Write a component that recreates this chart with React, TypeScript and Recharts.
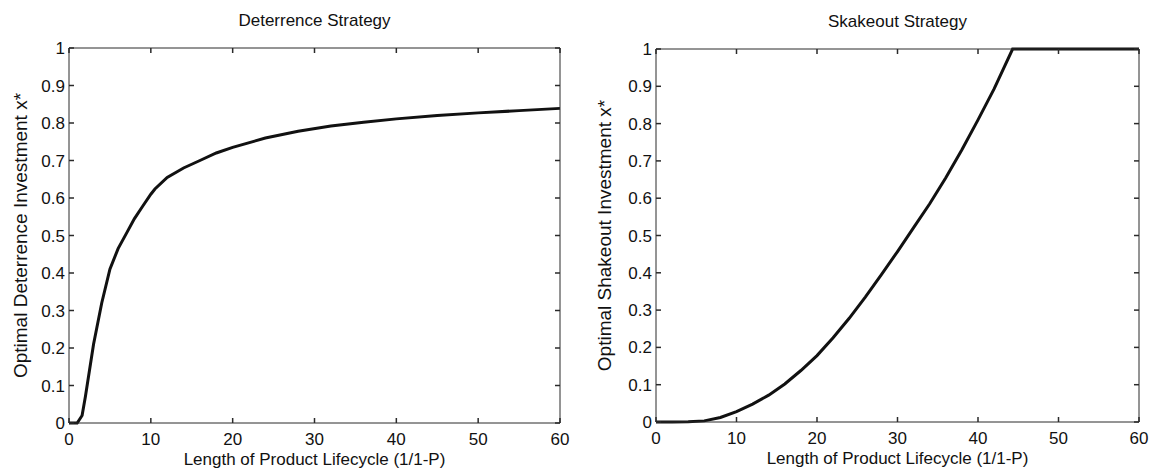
import React from 'react'
import { LineChart, Line, XAxis, YAxis } from 'recharts'

// curve values
const deterrenceX = [0, 1, 1.6, 2, 3, 4, 5, 6, 7, 8, 9, 10, 10.5, 12, 14, 16, 18, 20, 24, 28, 32, 36, 40, 45, 50, 55, 60]
const deterrenceY = [0, 0, 0.02, 0.07, 0.21, 0.32, 0.41, 0.465, 0.505, 0.545, 0.578, 0.61, 0.624, 0.655, 0.68, 0.7, 0.72, 0.735, 0.76, 0.778, 0.792, 0.802, 0.811, 0.82, 0.827, 0.833, 0.839]

const shakeoutX = [0, 2, 4, 6, 8, 10, 12, 14, 16, 18, 20, 22, 24, 26, 28, 30, 32, 34, 36, 38, 40, 42, 44.3, 46, 50, 55, 60]
const shakeoutY = [0, 0, 0.001, 0.003, 0.012, 0.028, 0.048, 0.072, 0.102, 0.138, 0.178, 0.226, 0.278, 0.335, 0.395, 0.457, 0.521, 0.585, 0.655, 0.73, 0.81, 0.893, 1, 1, 1, 1, 1]

const xTicks = [0, 10, 20, 30, 40, 50, 60]
const yTicks = [0, 0.1, 0.2, 0.3, 0.4, 0.5, 0.6, 0.7, 0.8, 0.9, 1]

const FONT = 'Liberation Sans, Arial, sans-serif'
const AXIS = '#2a2a2a'
const labelStyle = { fontSize: 17, fill: '#111', fontFamily: FONT }
const TICK_LEN = 5
const GAP = 10

// matlab style ticks: short marks pointing into the plot, label outside
const makeTick = (side: 'bottom' | 'left' | 'top' | 'right', showLabel: boolean) => (props: any) => {
  const { x, y, payload } = props
  let line = { x1: x, y1: y, x2: x, y2: y }
  if (side === 'bottom') line = { x1: x, y1: y - GAP, x2: x, y2: y - GAP - TICK_LEN }
  if (side === 'top') line = { x1: x, y1: y + GAP, x2: x, y2: y + GAP + TICK_LEN }
  if (side === 'left') line = { x1: x + GAP, y1: y, x2: x + GAP + TICK_LEN, y2: y }
  if (side === 'right') line = { x1: x - GAP, y1: y, x2: x - GAP - TICK_LEN, y2: y }
  return (
    <g>
      <line {...line} stroke={AXIS} strokeWidth={1.5} />
      {showLabel && (
        <text
          x={side === 'left' ? x + GAP - 4 : x}
          y={side === 'bottom' ? y + 12 : y + 6}
          textAnchor={side === 'left' ? 'end' : 'middle'}
          fontSize={17} fill="#111" fontFamily={FONT}
        >
          {payload.value}
        </text>
      )}
    </g>
  )
}

interface PanelProps {
  xs: number[]
  ys: number[]
  title: string
  yLabel: string
  width: number
  margin: { top: number; right: number; bottom: number; left: number }
  yLabelOffset: number
}

const Panel: React.FC<PanelProps> = ({ xs, ys, title, yLabel, width, margin, yLabelOffset }) => {
  const data = xs.map((x, i) => ({ x, y: ys[i] }))
  return (
    <LineChart width={width} height={473} data={data} margin={margin}>
      <XAxis
        type="number" dataKey="x" domain={[0, 60]} ticks={xTicks} interval={0}
        height={50} tickSize={0} tickMargin={GAP} tickLine={false}
        stroke={AXIS} tick={makeTick('bottom', true)}
        label={{ value: 'Length of Product Lifecycle (1/1-P)', position: 'insideBottom', offset: 8, style: labelStyle }}
      />
      <XAxis
        xAxisId="top" orientation="top" type="number" dataKey="x" domain={[0, 60]} ticks={xTicks} interval={0}
        height={1} tickSize={0} tickMargin={GAP} tickLine={false}
        stroke={AXIS} tick={makeTick('top', false)}
        label={{ value: title, position: 'top', offset: 21, style: labelStyle }}
      />
      <YAxis
        type="number" domain={[0, 1]} ticks={yTicks} interval={0}
        width={64} tickSize={0} tickMargin={GAP} tickLine={false}
        stroke={AXIS} tick={makeTick('left', true)}
        label={{ value: yLabel, angle: -90, position: 'insideLeft', offset: yLabelOffset, style: { ...labelStyle, fontSize: 19, textAnchor: 'middle' } }}
      />
      <YAxis
        yAxisId="right" orientation="right" type="number" domain={[0, 1]} ticks={yTicks} interval={0}
        width={1} tickSize={0} tickMargin={GAP} tickLine={false}
        stroke={AXIS} tick={makeTick('right', false)}
      />
      {/* invisible copy so the frame axes (top / right) get drawn */}
      <Line xAxisId="top" yAxisId="right" type="linear" dataKey="y" stroke="none" dot={false} legendType="none" isAnimationActive={false} />
      <Line type="linear" dataKey="y" stroke="#111" strokeWidth={3} dot={false} isAnimationActive={false} />
    </LineChart>
  )
}

export default function App() {
  return (
    <div style={{ position: 'absolute', left: 0, top: 0, width: 1151, height: 473, background: '#fff' }}>
      <div style={{ position: 'absolute', left: 0, top: 0 }}>
        <Panel
          xs={deterrenceX} ys={deterrenceY}
          title="Deterrence Strategy"
          yLabel="Optimal Deterrence Investment x*"
          width={580}
          margin={{ top: 47, right: 19, bottom: 0, left: 5 }}
          yLabelOffset={15}
        />
      </div>
      <div style={{ position: 'absolute', left: 580, top: 0 }}>
        <Panel
          xs={shakeoutX} ys={shakeoutY}
          title="Skakeout Strategy"
          yLabel="Optimal Shakeout Investment x*"
          width={571}
          margin={{ top: 48, right: 11, bottom: 1, left: 12 }}
          yLabelOffset={12}
        />
      </div>
    </div>
  )
}
